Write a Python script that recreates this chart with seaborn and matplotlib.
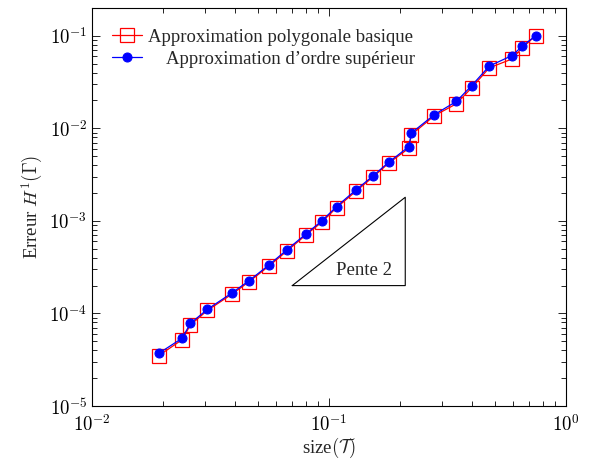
import matplotlib

matplotlib.use("Agg")
import matplotlib.pyplot as plt
import matplotlib.ticker as mticker
import numpy as np
import pandas as pd
import seaborn as sns

# mesh sizes and H1 errors
sizes = [0.0191, 0.024, 0.026, 0.0307, 0.039, 0.046, 0.0558, 0.0663, 0.0797,
         0.0933, 0.1077, 0.1297, 0.1535, 0.1787, 0.2177, 0.2226, 0.279, 0.345,
         0.401, 0.475, 0.592, 0.655, 0.745]
err_basic = [3.5e-5, 5.2e-5, 7.5e-5, 1.08e-4, 1.62e-4, 2.2e-4, 3.25e-4, 4.7e-4,
             7.0e-4, 9.7e-4, 1.39e-3, 2.08e-3, 2.98e-3, 4.2e-3, 6.1e-3, 8.5e-3,
             1.37e-2, 1.84e-2, 2.75e-2, 4.5e-2, 5.6e-2, 7.4e-2, 0.1]
err_high = [3.7e-5, 5.4e-5, 7.8e-5, 1.11e-4, 1.67e-4, 2.26e-4, 3.34e-4, 4.85e-4,
            7.18e-4, 1.0e-3, 1.43e-3, 2.15e-3, 3.06e-3, 4.3e-3, 6.35e-3, 8.87e-3,
            1.41e-2, 1.95e-2, 2.9e-2, 4.7e-2, 6.1e-2, 7.7e-2, 0.1]
labels = ["Approximation polygonale basique", "Approximation d\u2019ordre sup\u00e9rieur"]

# slope triangle corners
slope_x = [0.07, 0.21]
slope_y = [2.0e-4, 1.8e-3]
slope_label = "Pente 2"

sns.set_theme(style="ticks")
plt.rcParams.update({
    "font.family": ["Liberation Serif", "DejaVu Serif"],
    "mathtext.fontset": "cm",
    "font.size": 13.5,
    "xtick.direction": "in",
    "ytick.direction": "in",
    "xtick.top": True,
    "ytick.right": True,
    "xtick.major.size": 6,
    "ytick.major.size": 6,
    "xtick.minor.size": 3.5,
    "ytick.minor.size": 3.5,
    "axes.edgecolor": "black",
    "axes.linewidth": 0.8,
})

basic = pd.DataFrame({"size": sizes, "err": err_basic})
high = pd.DataFrame({"size": sizes, "err": err_high})

fig = plt.figure(figsize=(5.9, 4.63), dpi=100)
ax = fig.add_axes([0.156, 0.123, 0.803, 0.860])

sns.lineplot(data=basic, x="size", y="err", sort=False, color="red", lw=0.9,
             marker="s", markersize=9.5, markerfacecolor="none",
             markeredgecolor="red", markeredgewidth=0.9, label=labels[0], ax=ax)
sns.lineplot(data=high, x="size", y="err", sort=False, color="blue", lw=0.9,
             marker="o", markersize=6.5, markerfacecolor="blue",
             markeredgecolor="blue", label=labels[1], ax=ax)

ax.plot([slope_x[0], slope_x[1], slope_x[1], slope_x[0]],
        [slope_y[0], slope_y[0], slope_y[1], slope_y[0]], color="black", lw=0.8)
ax.text(np.sqrt(slope_x[0] * slope_x[1]) * 1.16, slope_y[0] * 1.45, slope_label,
        ha="center", va="center", fontsize=13.5)

ax.set_xscale("log")
ax.set_yscale("log")
ax.set_xlim(1e-2, 1e0)
ax.set_ylim(1e-5, 0.2)
fmt = mticker.FuncFormatter(lambda v, p: f"$10^{{{int(round(np.log10(v)))}}}$")
ax.xaxis.set_major_formatter(fmt)
ax.yaxis.set_major_formatter(fmt)
ax.xaxis.set_minor_locator(mticker.LogLocator(base=10, subs=np.arange(2, 10), numticks=20))
ax.yaxis.set_minor_locator(mticker.LogLocator(base=10, subs=np.arange(2, 10), numticks=20))
ax.xaxis.set_minor_formatter(mticker.NullFormatter())
ax.yaxis.set_minor_formatter(mticker.NullFormatter())
ax.tick_params(which="both", labelsize=13.5, colors="black", width=0.6)
ax.tick_params(axis="x", which="major", pad=6)

ax.set_xlabel(r"size$(\mathcal{T})$", fontsize=13.5, labelpad=0)
ax.set_ylabel(r"Erreur $H^1(\Gamma)$", fontsize=13.5, labelpad=3)

leg = ax.legend(loc="upper left", bbox_to_anchor=(0.035, 0.957), frameon=False,
                handlelength=1.6, handletextpad=0.32, labelspacing=0.26,
                borderaxespad=0, borderpad=0.2, fontsize=13.5)
texts = leg.get_texts()
texts[1].set_text("    " + labels[1])

fig.savefig("out.png", dpi=100)
